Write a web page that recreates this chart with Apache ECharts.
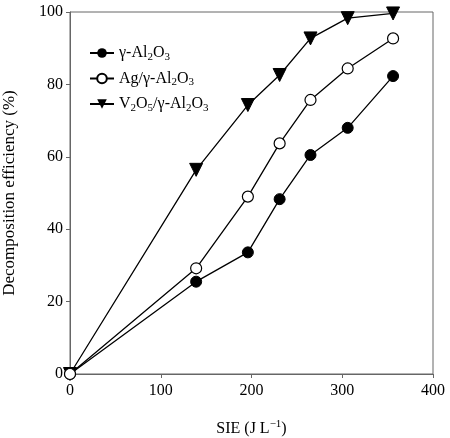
<!DOCTYPE html>
<html>
<head>
<meta charset="utf-8">
<script src="https://cdn.jsdelivr.net/npm/echarts@6/dist/echarts.min.js"></script>
<style>
html, body { margin: 0; padding: 0; background: #fff; }
#chart { width: 450px; height: 438px; }
</style>
</head>
<body>
<div id="chart"></div>
<script>
// SIE (J/L) for each catalyst, with decomposition efficiency (%)
var sie = [0, 139, 196, 231, 265, 306, 356];
var alumina = [0, 25.5, 33.6, 48.3, 60.5, 68.0, 82.3];
var agAlumina = [0, 29.2, 49.0, 63.7, 75.7, 84.4, 92.7];
var vAlumina = [0, 56.4, 74.3, 82.6, 92.7, 98.3, 99.6];
var yTicks = [0, 20, 40, 60, 80, 100];
var xTicks = [0, 100, 200, 300, 400];

var serif = 'Liberation Serif';
var axisColor = '#666';

function pairs(xs, ys) {
	return xs.map(function(x, i) { return [x, ys[i]]; });
}

// 图例文字（带下标）
var legendText = {
	'γ-Al2O3': '{a|γ-Al}{s|2}{a|O}{s|3}',
	'Ag/γ-Al2O3': '{a|Ag/γ-Al}{s|2}{a|O}{s|3}',
	'V2O5/γ-Al2O3': '{a|V}{s|2}{a|O}{s|5}{a|/γ-Al}{s|2}{a|O}{s|3}'
};

var lineStyle = { color: '#000', width: 1.3 };

var option = {
	animation: false,
	backgroundColor: '#fff',
	grid: {
		left: 70,
		right: 17,
		top: 12,
		bottom: 64,
		outerBoundsMode: 'none',
		containLabel: false,
		show: true,
		borderColor: axisColor,
		borderWidth: 1
	},
	legend: {
		orient: 'vertical',
		left: 84,
		top: 40,
		itemWidth: 24,
		itemHeight: 12,
		itemGap: 8,
		formatter: function(name) { return legendText[name]; },
		textStyle: {
			rich: {
				a: { fontFamily: serif, fontSize: 16, color: '#000' },
				s: { fontFamily: serif, fontSize: 11, color: '#000', padding: [8, 0, 0, 0] }
			}
		}
	},
	xAxis: {
		type: 'value',
		min: 0,
		max: 400,
		interval: 100,
		name: '{a|SIE (J L}{s|−1}{a|)}',
		nameLocation: 'middle',
		nameGap: 45,
		nameTextStyle: {
			rich: {
				a: { fontFamily: serif, fontSize: 16, color: '#000' },
				s: { fontFamily: serif, fontSize: 11, color: '#000', padding: [0, 0, 8, 0] }
			}
		},
		axisLine: { lineStyle: { color: axisColor } },
		axisTick: { inside: false, length: 4, lineStyle: { color: axisColor } },
		axisLabel: { fontFamily: serif, fontSize: 16, color: '#000', margin: 9 },
		splitLine: { show: false }
	},
	yAxis: {
		type: 'value',
		min: 0,
		max: 100,
		interval: 20,
		name: 'Decomposition efficiency (%)',
		nameLocation: 'middle',
		nameGap: 52,
		nameTextStyle: { fontFamily: serif, fontSize: 17, color: '#000' },
		axisLine: { show: true, lineStyle: { color: axisColor } },
		axisTick: { show: true, inside: false, length: 4, lineStyle: { color: axisColor } },
		axisLabel: { fontFamily: serif, fontSize: 16, color: '#000', margin: 7 },
		splitLine: { show: false }
	},
	series: [
		{
			name: 'γ-Al2O3',
			type: 'line',
			data: pairs(sie, alumina),
			symbol: 'circle',
			symbolSize: 11,
			itemStyle: { color: '#000', borderColor: '#000' },
			lineStyle: lineStyle,
			z: 3
		},
		{
			name: 'Ag/γ-Al2O3',
			type: 'line',
			data: pairs(sie, agAlumina),
			symbol: 'circle',
			symbolSize: 11,
			itemStyle: { color: '#fff', borderColor: '#000', borderWidth: 1.2 },
			lineStyle: lineStyle,
			z: 4
		},
		{
			name: 'V2O5/γ-Al2O3',
			type: 'line',
			data: pairs(sie, vAlumina),
			symbol: 'triangle',
			symbolRotate: 180,
			symbolSize: 13,
			itemStyle: { color: '#000', borderColor: '#000' },
			lineStyle: lineStyle,
			z: 2
		}
	]
};

var myChart = echarts.init(document.getElementById('chart'));
myChart.setOption(option);
</script>
</body>
</html>
